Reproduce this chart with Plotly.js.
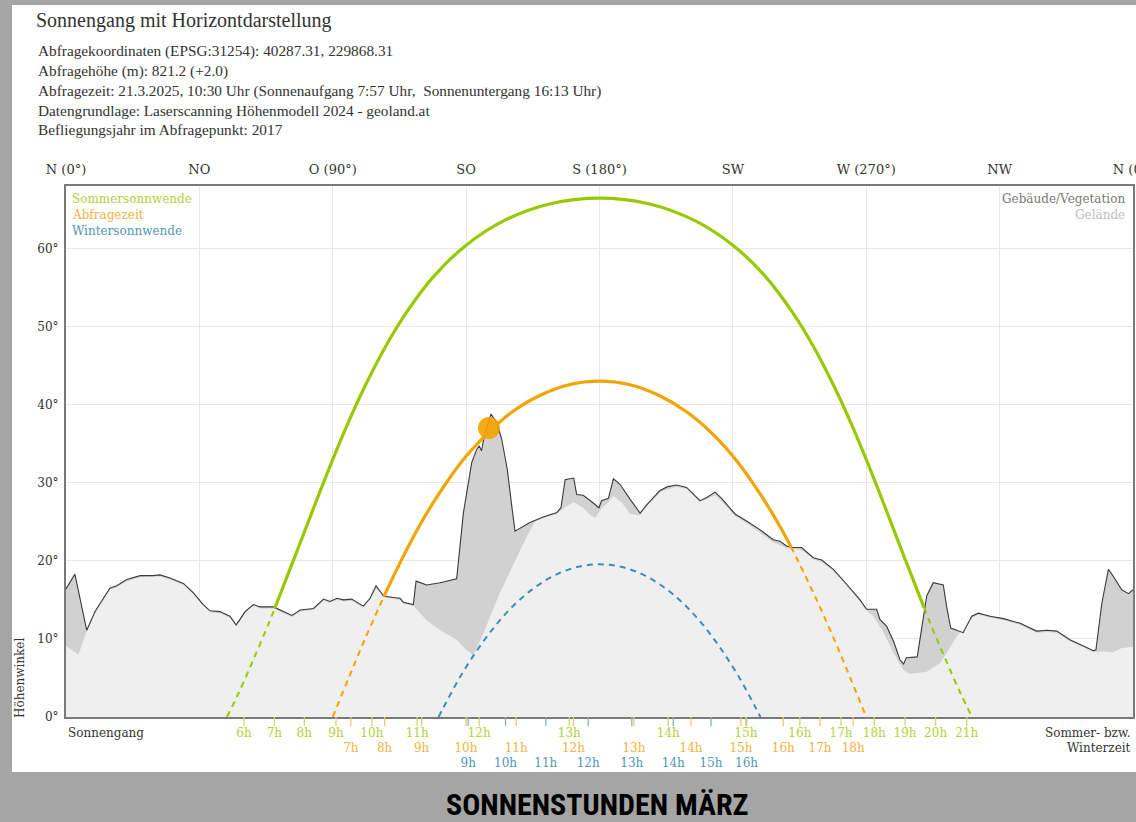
<!DOCTYPE html>
<html><head><meta charset="utf-8">
<script src="https://cdn.plot.ly/plotly-3.0.1.min.js"></script>
<style>
html,body{margin:0;padding:0;background:#a5a5a5;width:1136px;height:822px;overflow:hidden}
#panel{position:absolute;left:12px;top:5px;width:1124px;height:767px;background:#fff}
#chart{position:absolute;left:0;top:0;width:1136px;height:822px}
</style></head><body>
<div id="panel"></div><div id="chart"></div>
<script>
// ---------- DATA ----------
// Horizon: buildings / vegetation (azimuth deg, altitude deg)
const surfAz  = [0,3.0,7.0,9.8,14.8,17.1,20.5,25.0,29.5,31.7,35.1,39.6,43.0,46.3,48.6,52.0,55.3,57.4,58.7,60.4,63.2,65.5,70.0,73.4,76.2,79.0,83.5,86.9,89.1,91.4,93.6,96.4,100.3,102.6,104.6,106.0,107.1,110.5,112.7,113.8,117.2,118.1,121.7,126.2,131.8,134.1,136.9,138.6,139.4,140.2,141.4,143.4,145.3,147.0,148.9,150.4,151.5,156.5,161.0,165.6,167.0,168.4,171.3,172.3,174.5,177.9,179.8,180.7,183.0,184.7,186.9,190.3,193.7,196.0,200.4,203.0,206.0,209.4,213.9,216.2,219.0,221.2,225.7,229.6,234.1,238.6,240.9,243.1,245.4,248.2,252.1,255.0,258.9,263.4,267.9,270.1,273.5,274.6,276.9,279.2,281.4,282.6,283.5,287.2,289.2,290.4,292.6,296.0,297.1,298.5,302.7,305.6,307.8,311.8,316.3,319.6,321.9,327.5,330.9,334.3,338.7,343.3,346.6,347.5,349.5,351.7,353.4,356.2,358.5,360];
const surfAlt = [16.4,18.3,11.1,13.5,16.5,16.8,17.6,18.1,18.1,18.2,17.8,17.1,15.9,14.4,13.6,13.5,12.9,11.8,12.5,13.5,14.4,14.1,14.1,13.5,13.0,13.7,13.9,15.1,14.8,15.2,15.0,15.1,14.2,15.2,16.8,16.1,15.5,15.3,15.2,14.7,14.4,17.4,16.9,17.2,17.7,26.2,32.6,34.3,34.7,34.1,36.5,38.8,37.7,35.6,31.7,27.0,23.8,24.9,25.6,26.2,26.8,30.4,30.6,28.5,28.4,27.4,26.8,27.7,28.0,30.5,29.8,27.9,26.1,27.2,29.0,29.5,29.7,29.4,27.7,28.1,28.8,28.0,26.0,25.1,24.0,22.7,22.5,21.9,21.7,21.7,20.4,20.1,18.9,17.0,15.0,13.8,13.8,12.5,11.6,9.7,7.3,6.8,7.6,7.7,12.9,15.5,17.2,16.9,14.2,11.4,10.8,12.9,13.3,12.9,12.6,12.3,12.0,11.0,11.1,11.0,9.9,9.1,8.5,8.6,14.6,18.9,18.0,16.3,15.8,16.3];
// Horizon: terrain only
const terrAz  = [0,2.0,4.2,7.0,9.8,14.8,17.1,20.5,25.0,29.5,31.7,35.1,39.6,43.0,46.3,48.6,52.0,55.3,57.4,58.7,60.4,63.2,65.5,70.0,73.4,76.2,79.0,83.5,86.9,89.1,91.4,93.6,96.4,100.3,102.6,104.6,106.0,107.1,110.5,112.7,113.8,117.2,121.7,126.2,131.8,135.0,137.5,140.8,146.4,149.0,152.1,155.3,158.2,161.0,165.6,168.4,171.3,174.5,176.5,178.5,180.7,183.0,184.7,187.5,190.3,193.7,196.0,200.4,206.0,209.4,213.9,216.2,219.0,221.2,225.7,229.6,234.1,238.6,243.1,248.2,252.1,255.0,258.9,263.4,267.9,270.1,272.4,275.9,279.2,282.6,284.8,290.4,294.9,297.1,300.5,303.9,305.6,307.8,311.8,316.3,319.6,321.9,327.5,330.9,334.3,338.7,343.3,346.6,350.0,353.4,356.0,360];
const terrAlt = [9.1,8.6,8.0,11.0,13.3,16.3,16.6,17.4,17.9,18.0,18.0,17.6,16.9,15.7,14.2,13.4,13.3,12.7,11.6,12.3,13.3,14.2,13.9,13.9,13.3,12.8,13.5,13.7,14.9,14.6,15.0,14.8,14.9,14.0,15.0,16.4,15.9,15.3,15.1,15.0,14.5,14.2,12.4,11.1,9.9,8.6,7.9,10.7,15.9,18.0,20.5,23.0,25.0,25.5,26.0,26.9,27.5,26.8,26.0,25.5,26.7,27.5,28.3,27.5,26.0,25.8,27.0,28.8,29.5,29.2,27.5,27.9,28.4,27.6,25.8,24.8,23.6,22.4,21.6,21.4,20.2,19.8,18.7,16.8,14.8,13.6,12.9,10.8,8.2,6.0,5.5,5.8,6.9,8.2,10.3,12.0,12.7,13.1,12.7,12.4,12.1,11.8,10.8,10.9,10.8,9.7,8.9,8.3,8.4,8.3,8.8,9.0];

// Sun path, summer solstice (visible part solid, hidden parts dashed)
const sumRiseAz  = [54.3,58.1,63.3,68.5,70.4];
const sumRiseAlt = [0,2.95,7.42,12.08,13.9];
const sumDayAz   = [70.4,73.5,78.6,83.7,89.0,94.6,100.7,107.4,115.1,124.0,134.8,147.8,163.1,180,196.9,212.2,225.2,236.0,244.9,252.6,259.3,265.4,271.0,276.3,281.4,286.5,289.5];
const sumDayAlt  = [13.9,16.92,21.88,26.93,32.03,37.15,42.22,47.17,51.94,56.40,60.36,63.56,65.70,66.45,65.70,63.56,60.36,56.40,51.94,47.17,42.22,37.15,32.03,26.93,21.88,16.92,14.0];
const sumSetAz   = [289.5,291.5,296.7,301.9,305.7];
const sumSetAlt  = [14.0,12.08,7.42,2.95,0];

// Sun path, query date 21.3.2025
const qRiseAz   = [90,95.5,101.1,106.9,107.2];
const qRiseAlt  = [0,5.11,10.2,15.13,15.4];
const qDay1Az   = [107.2,112.9,119.3,126.2,133.6,141.1];
const qDay1Alt  = [15.4,19.9,24.53,28.8,32.76,35.9];
const qSpikeAz  = [141.1,142.6,145.3];
const qSpikeAlt = [35.9,36.5,37.4];
const qDay2Az   = [145.3,150.5,160.0,169.8,180,190.2,200.0,209.5,218.3,226.4,233.8,240.7,244.6];
const qDay2Alt  = [37.4,39.06,41.2,42.55,43.0,42.55,41.2,39.06,36.2,32.76,28.8,24.53,21.8];
const qSetAz    = [244.6,247.1,253.1,258.9,264.5,270];
const qSetAlt   = [21.8,19.9,15.13,10.2,5.11,0];
const queryPosAz = [142.7], queryPosAlt = [37.0];

// Sun path, winter solstice (entirely hidden)
const winAz  = [125.7,127.4,133.0,139.0,145.2,151.7,158.5,165.5,172.7,180,187.3,194.5,201.5,208.3,214.8,221.0,227.0,232.6,234.3];
const winAlt = [0,1.25,5.16,8.71,11.85,14.53,16.68,18.26,19.23,19.55,19.23,18.26,16.68,14.53,11.85,8.71,5.16,1.25,0];

// Hour marks (azimuth of the sun at full clock hours)
const sumHourAz  = [60.05,70.3,80.4,91.1,103.2,118.5,139.4,169.8,203.2,229.4,247.6,261.5,272.7,283.1,293.4,303.9];
const sumHourLbl = ["6h","7h","8h","9h","10h","11h","12h","13h","14h","15h","16h","17h","18h","19h","20h","21h"];
const qHourAz    = [96.1,107.5,120.0,134.95,151.9,171.2,191.6,210.9,227.7,242.0,254.4,265.6];
const qHourLbl   = ["7h","8h","9h","10h","11h","12h","13h","14h","15h","16h","17h","18h"];
const winHourAz  = [135.7,148.3,161.9,176.2,190.9,204.9,217.6,229.6];
const winHourLbl = ["9h","10h","11h","12h","13h","14h","15h","16h"];

// Axes
const dirVals = [0,45,90,135,180,225,270,315,360];
const dirText = ["N (0°)","NO","O (90°)","SO","S (180°)","SW","W (270°)","NW","N (0°)"];
const altVals = [0,10,20,30,40,50,60];
const altText = ["0°","10°","20°","30°","40°","50°","60°"];

const headerLines = [
  "Abfragekoordinaten (EPSG:31254): 40287.31, 229868.31",
  "Abfragehöhe (m): 821.2 (+2.0)",
  "Abfragezeit: 21.3.2025, 10:30 Uhr (Sonnenaufgang 7:57 Uhr,\u00a0 Sonnenuntergang 16:13 Uhr)",
  "Datengrundlage: Laserscanning Höhenmodell 2024 - geoland.at",
  "Befliegungsjahr im Abfragepunkt: 2017"
];

// ---------- STYLE ----------
const GREEN = '#98c900', GREEN_T = '#b3d13a', GREEN_K = '#c6dc6a';
const ORANGE = '#f5a300', ORANGE_T = '#f2b23e', ORANGE_K = '#f6c46a';
const BLUE = '#3a8fb2', BLUE_T = '#4f98b6', BLUE_K = '#7fb4cb';
const SERIF = 'DejaVu Serif, serif';
const TSERIF = 'Liberation Serif, Times New Roman, serif';
const DASH = '6px,5px';

const W = 1136, H = 822, L = 66, R = 3, T = 186, B = 50;
const AXIS_BOTTOM = 717;               // pixel row of 0° line
const PW = W - L - R, PH = H - T - B;
const SUB = (H - B) - AXIS_BOTTOM;      // height of the hour-label strip (px)
const px2x = p => (p - L) / PW;
const py2y = p => (H - B - p) / PH;

function path(x, y, color, width, dash) {
  return {x, y, type:'scatter', mode:'lines', hoverinfo:'skip',
    line:{color, width, dash: dash || 'solid', shape:'spline', smoothing:1}};
}

const traces = [
  {x:surfAz, y:surfAlt, type:'scatter', mode:'lines', fill:'tozeroy', fillcolor:'#d1d1d1', line:{width:0}, hoverinfo:'skip'},
  {x:terrAz, y:terrAlt, type:'scatter', mode:'lines', fill:'tozeroy', fillcolor:'#efefef', line:{width:0}, hoverinfo:'skip'},
  {x:surfAz, y:surfAlt, type:'scatter', mode:'lines', line:{color:'#3a3a3a', width:1.1}, hoverinfo:'skip'},
  path(winAz, winAlt, BLUE, 2, DASH),
  path(sumRiseAz, sumRiseAlt, GREEN, 2, DASH),
  path(sumSetAz, sumSetAlt, GREEN, 2, DASH),
  path(sumDayAz, sumDayAlt, GREEN, 3.2),
  path(qRiseAz, qRiseAlt, ORANGE, 2, DASH),
  path(qSetAz, qSetAlt, ORANGE, 2, DASH),
  path(qSpikeAz, qSpikeAlt, ORANGE, 1.6, '3px,3px'),
  path(qDay1Az, qDay1Alt, ORANGE, 3.2),
  path(qDay2Az, qDay2Alt, ORANGE, 3.2),
  {x:queryPosAz, y:queryPosAlt, type:'scatter', mode:'markers', hoverinfo:'skip',
   marker:{size:22, color:ORANGE, opacity:0.9, line:{width:0}}}
];

// hour strip below the plot: second subplot (x2/y2), y2 in pixels below the 0° line
function tickTrace(az, color) {
  return {x:az, y:az.map(() => 4), xaxis:'x2', yaxis:'y2', type:'scatter', mode:'markers', hoverinfo:'skip',
    marker:{symbol:'line-ns', size:7, line:{color, width:1.3}}};
}
function labelTrace(az, lbl, color, row) {
  return {x:az, y:az.map(() => row), text:lbl, xaxis:'x2', yaxis:'y2', type:'scatter', mode:'text', hoverinfo:'skip',
    textposition:'middle center', textfont:{family:SERIF, size:12, color}};
}
traces.push(tickTrace(winHourAz, BLUE_K), tickTrace(qHourAz, ORANGE_K), tickTrace(sumHourAz, GREEN_K));
traces.push(labelTrace(sumHourAz, sumHourLbl, GREEN_T, 17));
traces.push(labelTrace(qHourAz, qHourLbl, ORANGE_T, 31.5));
traces.push(labelTrace(winHourAz, winHourLbl, BLUE_T, 46.5));

const ann = [];
headerLines.forEach((t, i) => {
  ann.push({text:t, xref:'paper', yref:'paper', x:px2x(36), y:py2y([51,71,91,111,130][i]),
    xanchor:'left', yanchor:'middle', showarrow:false, font:{family:TSERIF, size:15.3, color:'#333'}});
});
[['Sommersonnwende', GREEN_T, 199], ['Abfragezeit', ORANGE_T, 215], ['Wintersonnwende', BLUE_T, 231]].forEach(a => {
  ann.push({text:a[0], xref:'paper', yref:'paper', x:px2x(70), y:py2y(a[2]), xanchor:'left', yanchor:'middle',
    showarrow:false, font:{family:SERIF, size:12, color:a[1]}});
});
[['Gebäude/Vegetation', '#777', 199], ['Gelände', '#bdbdbd', 215]].forEach(a => {
  ann.push({text:a[0], xref:'paper', yref:'paper', x:px2x(1127), y:py2y(a[2]), xanchor:'right', yanchor:'middle',
    showarrow:false, font:{family:SERIF, size:12, color:a[1]}});
});
ann.push({text:'Sonnengang', xref:'paper', yref:'paper', x:px2x(66), y:py2y(733), xanchor:'left', yanchor:'middle',
  showarrow:false, font:{family:SERIF, size:12, color:'#333'}});
ann.push({text:'Sommer- bzw.', xref:'paper', yref:'paper', x:px2x(1133), y:py2y(733), xanchor:'right', yanchor:'middle',
  showarrow:false, font:{family:SERIF, size:12, color:'#333'}});
ann.push({text:'Winterzeit', xref:'paper', yref:'paper', x:px2x(1133), y:py2y(748), xanchor:'right', yanchor:'middle',
  showarrow:false, font:{family:SERIF, size:12, color:'#333'}});
ann.push({text:'Höhenwinkel', xref:'paper', yref:'paper', x:px2x(20), y:py2y(720), xanchor:'center', yanchor:'bottom',
  textangle:-90, showarrow:false, font:{family:SERIF, size:12, color:'#333'}});
ann.push({text:'<b>SONNENSTUNDEN MÄRZ</b>', xref:'paper', yref:'paper', x:px2x(597), y:py2y(804), xanchor:'center', yanchor:'middle',
  showarrow:false, font:{family:'Liberation Sans Narrow, Roboto Condensed, Arial Narrow, sans-serif', size:30, color:'#000'}});

const layout = {
  width:W, height:H,
  margin:{l:L, r:R, t:T, b:B, pad:0},
  paper_bgcolor:'rgba(0,0,0,0)', plot_bgcolor:'rgba(0,0,0,0)',
  showlegend:false,
  title:{text:'Sonnengang mit Horizontdarstellung', xref:'container', yref:'container', x:36/W, xanchor:'left',
    y:1 - 20/H, yanchor:'middle', font:{family:TSERIF, size:20, color:'#333'}},
  xaxis:{range:[0,360], side:'top', anchor:'y', tickvals:dirVals, ticktext:dirText, ticks:'', showgrid:true, gridcolor:'#e8e8e8',
    zeroline:false, showline:true, mirror:true, linecolor:'#7a7a7a', linewidth:2, ticklabelstandoff:5,
    ticklabeloverflow:'allow', tickfont:{family:SERIF, size:13, color:'#333'}, fixedrange:true},
  yaxis:{range:[0,68], domain:[SUB/PH, 1], anchor:'x', tickvals:altVals, ticktext:altText, ticks:'', showgrid:true, gridcolor:'#e8e8e8',
    zeroline:false, showline:true, mirror:true, linecolor:'#7a7a7a', linewidth:2, ticklabelstandoff:3,
    tickfont:{family:SERIF, size:12, color:'#333'}, fixedrange:true},
  xaxis2:{range:[0,360], anchor:'y2', visible:false, showgrid:false, zeroline:false, fixedrange:true},
  yaxis2:{range:[SUB, 0], domain:[0, SUB/PH], anchor:'x2', visible:false, showgrid:false, zeroline:false, fixedrange:true},
  annotations:ann
};

Plotly.newPlot('chart', traces, layout, {staticPlot:true, displayModeBar:false});
</script></body></html>
